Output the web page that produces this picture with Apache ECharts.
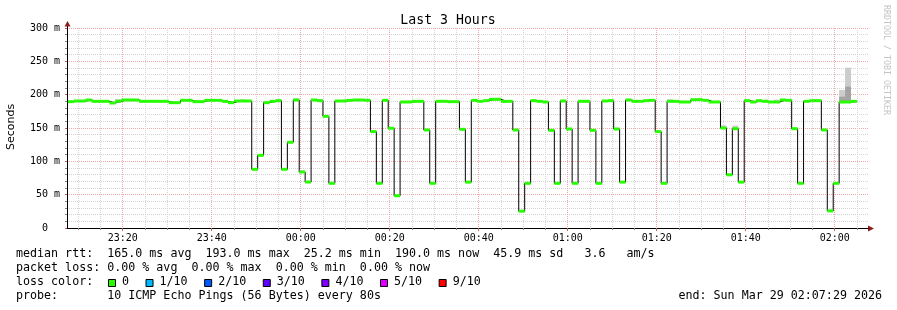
<!DOCTYPE html>
<html><head><meta charset="utf-8">
<script src="https://cdn.jsdelivr.net/npm/echarts@6/dist/echarts.min.js"></script>
<style>html,body{margin:0;padding:0;background:#fff}#c{width:897px;height:310px}</style>
</head><body><div id="c"></div>
<script>
// ---------- data ----------
const chartTitle = 'Last 3 Hours';
const yAxisTitle = 'Seconds';
const watermark = 'RRDTOOL / TOBI OETIKER';
const rangeStartLabel = '23:07:29';
const rangeEndLabel = '02:07:29';
const firstSampleLabel = '23:07:40';
const sampleStepSec = 80;
const timeTickLabels = ['23:20','23:40','00:00','00:20','00:40','01:00','01:20','01:40','02:00'];
const yTickValues = [0, 50, 100, 150, 200, 250, 300];
const yTickLabels = ['0  ', '50 m', '100 m', '150 m', '200 m', '250 m', '300 m'];
// median rtt per 80s sample, in ms
const medianRtt = [
 189.5,190.5,190.5,192,190,190,190,187.5,190,192,
 192,192,190,190,190,190,190,188,188,191.5,
 191.5,189.5,189.5,191.5,191.5,191.5,190,188,190.5,190.5,
 190.5,88,109,188,190,191,88,128.6,192,84,
 69,192,191,167.5,67,190.5,190.5,191.5,192,192,
 191.5,144.6,67,191.5,149.6,48.4,189,189,190,190,
 147,67,190,190,189.5,189.5,148,68.8,191.5,190,
 191,193,193,190,190,147,25.2,67,191,190,
 189,146.5,67,190.5,148.5,67,190,190,146.5,67,
 190.5,191,148.5,68.8,192,190,190,191,191.5,144.6,
 67,190,190,189,189,192.5,192.5,191.5,189,189,
 150,79.8,149,68.8,191,189,191,190,189,189,
 192,191.5,149,67,190,191,191,147,25.7,67,
 189,189,190,null,null
];
// smoke (spread of individual pings) where visible above the median
const smokeIndex    = [8, 29, 38, 39, 71, 98, 101, 110, 112, 117, 119, 130, 131];
const smokeTop      = [193.5, 193, 194.5, 86.5, 195, 193.5, 193, 154, 153.5, 192.5, 192.5, 207, 240.5];
const smokeInnerTop = [null, null, null, null, null, null, null, null, null, null, null, 197, 212];

const statsLine = 'median rtt:  165.0 ms avg  193.0 ms max  25.2 ms min  190.0 ms now  45.9 ms sd   3.6   am/s';
const lossLine  = 'packet loss: 0.00 % avg  0.00 % max  0.00 % min  0.00 % now';
const lossColorTitle = 'loss color:';
const lossColorLabels = ['0', '1/10', '2/10', '3/10', '4/10', '5/10', '9/10'];
const lossColors = ['#26ff00', '#00b8ff', '#0059ff', '#5e00ff', '#7e00ff', '#dd00ff', '#ff0000'];
const probeLine = 'probe:       10 ICMP Echo Pings (56 Bytes) every 80s';
const endLine = 'end: Sun Mar 29 02:07:29 2026';

// ---------- helpers ----------
function toSec(lbl) { // seconds since Mar 28 00:00 (times before noon are on Mar 29)
  const p = lbl.split(':').map(Number);
  let s = p[0] * 3600 + p[1] * 60 + (p[2] || 0);
  if (p[0] < 12) s += 86400;
  return s;
}
function fmt(v) {
  const h = Math.floor(v / 3600) % 24, m = Math.floor((v % 3600) / 60);
  return String(h).padStart(2, '0') + ':' + String(m).padStart(2, '0');
}
const xMin = toSec(rangeStartLabel), xMax = toSec(rangeEndLabel);
const t0 = toSec(firstSampleLabel);
const majorTicks = timeTickLabels.map(toSec);
const minorTicks = [];
for (let t = Math.ceil(xMin / 300) * 300; t <= xMax; t += 300) if (majorTicks.indexOf(t) < 0) minorTicks.push(t);

const rectData = [], lineData = [];
let lastIdx = -1;
medianRtt.forEach((v, i) => {
  if (v == null) return;
  rectData.push([t0 + i * sampleStepSec, t0 + (i + 1) * sampleStepSec, v]);
  lineData.push([t0 + i * sampleStepSec, v]);
  lastIdx = i;
});
lineData.push([t0 + (lastIdx + 1) * sampleStepSec, medianRtt[lastIdx]]);
const smokeData = [];
smokeIndex.forEach((idx, k) => {
  const s = t0 + idx * sampleStepSec, e = s + sampleStepSec, med = medianRtt[idx];
  smokeData.push([s, e, med, smokeTop[k], 0]);
  if (smokeInnerTop[k] != null) smokeData.push([s, e, med, smokeInnerTop[k], 1]);
});

const MONO = '"DejaVu Sans Mono", monospace';
const GRID_MINOR = '#d4d4d4', GRID_MAJOR = '#f0a8a8', ARROW = '#8b1c1c';
const gridLeft = 67, gridTop = 28, gridW = 801, gridH = 200;

// legend graphics
const legendFs = 11.67, cw = 7.03, lx = 16, rowY = [254.2, 268, 281.9, 295.5];
const graphics = [
  {type: 'text', x: 448, y: 20.5, style: {text: chartTitle, font: '13.2px ' + MONO, fill: '#000', align: 'center', verticalAlign: 'middle'}},
  {type: 'text', x: 11, y: 127, rotation: Math.PI / 2, style: {text: yAxisTitle, font: '11px "DejaVu Sans", sans-serif', fill: '#000', align: 'center', verticalAlign: 'middle'}},
  {type: 'text', x: 886, y: 5, rotation: -Math.PI / 2, style: {text: watermark, font: '8.3px ' + MONO, fill: '#c4c4c4', align: 'left', verticalAlign: 'middle'}},
  {type: 'text', x: lx, y: rowY[0], style: {text: statsLine, font: legendFs + 'px ' + MONO, fill: '#000', verticalAlign: 'middle'}},
  {type: 'text', x: lx, y: rowY[1], style: {text: lossLine, font: legendFs + 'px ' + MONO, fill: '#000', verticalAlign: 'middle'}},
  {type: 'text', x: lx, y: rowY[2], style: {text: lossColorTitle, font: legendFs + 'px ' + MONO, fill: '#000', verticalAlign: 'middle'}},
  {type: 'text', x: lx, y: rowY[3], style: {text: probeLine, font: legendFs + 'px ' + MONO, fill: '#000', verticalAlign: 'middle'}},
  {type: 'text', x: 882, y: rowY[3], style: {text: endLine, font: legendFs + 'px ' + MONO, fill: '#000', align: 'right', verticalAlign: 'middle'}},
  // axis extensions + arrows
  {type: 'line', shape: {x1: gridLeft + 0.5, y1: gridTop, x2: gridLeft + 0.5, y2: 24}, style: {stroke: '#000', lineWidth: 1}},
  {type: 'polygon', shape: {points: [[gridLeft - 2.5, 26.5], [gridLeft + 0.5, 21], [gridLeft + 3.5, 26.5]]}, style: {fill: ARROW}},
  {type: 'polygon', shape: {points: [[868, 225.5], [874, 228.5], [868, 231.5]]}, style: {fill: ARROW}}
];
let bx = 108;
lossColorLabels.forEach((lab, k) => {
  graphics.push({type: 'rect', shape: {x: bx + 0.5, y: 279.5, width: 7, height: 7}, style: {fill: lossColors[k], stroke: '#000', lineWidth: 1}});
  graphics.push({type: 'text', x: bx + 14, y: rowY[2], style: {text: lab, font: legendFs + 'px ' + MONO, fill: '#000', verticalAlign: 'middle'}});
  bx = bx + 14 + lab.length * cw + 16.5;
});

const chart = echarts.init(document.getElementById('c'), null, {renderer: 'canvas'});
chart.setOption({
  animation: false,
  backgroundColor: '#fff',
  grid: {left: gridLeft, top: gridTop, width: gridW, height: gridH, containLabel: false},
  xAxis: [
    {type: 'value', min: xMin, max: xMax, position: 'bottom',
     axisLine: {show: true, onZero: false, lineStyle: {color: '#000', width: 1}},
     axisTick: {show: true, customValues: minorTicks, length: 2, inside: false, lineStyle: {color: '#888'}},
     axisLabel: {show: false},
     splitLine: {show: true, lineStyle: {color: GRID_MINOR, type: [1, 1], width: 1}}},
    {type: 'value', min: xMin, max: xMax, position: 'bottom',
     axisLine: {show: false, onZero: false},
     axisTick: {show: true, customValues: majorTicks, length: 3, lineStyle: {color: '#c06060'}},
     axisLabel: {show: true, customValues: majorTicks, formatter: v => fmt(v), margin: 5,
                 fontFamily: MONO, fontSize: 10, color: '#000'},
     splitLine: {show: true, lineStyle: {color: GRID_MAJOR, type: [1, 1], width: 1}}}
  ],
  yAxis: {type: 'value', min: 0, max: 300, interval: 50,
    axisLine: {show: true, lineStyle: {color: '#000', width: 1}},
    axisTick: {show: true, length: 2, lineStyle: {color: '#c06060'}},
    minorTick: {show: true, splitNumber: 5, length: 2, lineStyle: {color: '#888'}},
    axisLabel: {margin: 7, fontFamily: MONO, fontSize: 10, color: '#000',
      formatter: v => yTickLabels[yTickValues.indexOf(v)]},
    splitLine: {show: true, lineStyle: {color: GRID_MAJOR, type: [1, 1], width: 1}},
    minorSplitLine: {show: true, lineStyle: {color: GRID_MINOR, type: [1, 1], width: 1}}
  },
  series: [
    {type: 'custom', name: 'smoke', xAxisIndex: 0, z: 2, data: smokeData, encode: {x: [0, 1], y: [2, 3]},
     renderItem: (params, api) => {
       const a = api.coord([api.value(0), api.value(3)]);
       const b = api.coord([api.value(1), api.value(2)]);
       return {type: 'rect', shape: {x: a[0], y: a[1], width: b[0] - a[0], height: b[1] - a[1]},
               style: {fill: api.value(4) ? '#a4a4a4' : '#cccccc'}};
     }},
    {type: 'line', name: 'median', xAxisIndex: 0, z: 3, data: lineData, step: 'end', symbol: 'none',
     lineStyle: {color: '#000', width: 1}},
    {type: 'custom', name: 'median rtt', xAxisIndex: 0, z: 4, data: rectData, encode: {x: [0, 1], y: 2},
     renderItem: (params, api) => {
       const a = api.coord([api.value(0), api.value(2)]);
       const b = api.coord([api.value(1), api.value(2)]);
       return {type: 'rect', shape: {x: a[0], y: a[1] - 1.5, width: b[0] - a[0], height: 3},
               style: {fill: lossColors[0]}};
     }}
  ],
  graphic: graphics
});
</script></body></html>
